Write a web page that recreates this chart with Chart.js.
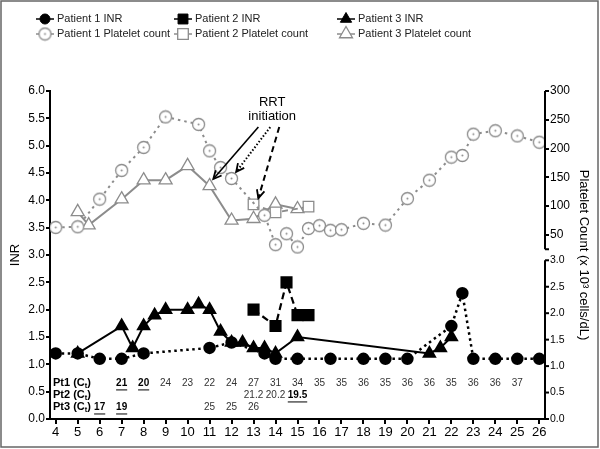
<!DOCTYPE html>
<html>
<head>
<meta charset="utf-8">
<script src="https://cdn.jsdelivr.net/npm/chart.js@4.4.0/dist/chart.umd.min.js"></script>
<style>
  html, body { margin: 0; padding: 0; background: #fff; }
  canvas { display: block; }
</style>
</head>
<body>
<canvas id="inrChart" width="600" height="449"></canvas>
<script>
// ==== DATA ====
const dayTicks = [4,5,6,7,8,9,10,11,12,13,14,15,16,17,18,19,20,21,22,23,24,25,26];
const inrTicks = [0,0.5,1,1.5,2,2.5,3,3.5,4,4.5,5,5.5,6];
const plateletTicks = [50,100,150,200,250,300];
const rightInrTicks = [0,0.5,1,1.5,2,2.5,3];

const p1InrDays   = [4,5,6,7,8,11,12,13.5,14,15,16.5,18,19,20,22,22.5,23,24,25,26];
const p1InrValues = [1.2,1.2,1.1,1.1,1.2,1.3,1.4,1.2,1.1,1.1,1.1,1.1,1.1,1.1,1.7,2.3,1.1,1.1,1.1,1.1];

const p2InrDays   = [13,14,14.5,15,15.5];
const p2InrValues = [2.0,1.7,2.5,1.9,1.9];

const p3InrDays   = [5,7,7.5,8,8.5,9,10,10.5,11,11.5,12,12.5,13,13.5,14,15,21,21.5,22];
const p3InrValues = [1.2,1.7,1.3,1.7,1.9,2.0,2.0,2.1,2.0,1.6,1.4,1.4,1.3,1.3,1.2,1.5,1.2,1.3,1.5];

const p1PltDays   = [4,5,6,7,8,9,10.5,11,11.5,12,13.5,14,14.5,15,15.5,16,16.5,17,18,19,20,21,22,22.5,23,24,25,26];
const p1PltValues = [63,64,112,162,202,255,242,196,167,148,84,33,52,29,61,66,58,59,70,67,113,145,185,188,225,231,222,211];

const p2PltDays   = [13,14,15.5];
const p2PltValues = [103,89,99];

const p3PltDays   = [5,5.5,7,8,9,10,11,12,13,14,15];
const p3PltValues = [90,67,112,145,145,170,135,75,78,103,95];

// C_t table rows
const pt1CtDays   = [7,8,9,10,11,12,13,14,15,16,17,18,19,20,21,22,23,24,25];
const pt1CtValues = ['21','20','24','23','22','24','27','31','34','35','35','36','35','36','36','35','36','36','37'];
const pt1CtMarked = [7,8];
const pt2CtDays   = [13,14,15];
const pt2CtValues = ['21.2','20.2','19.5'];
const pt2CtMarked = [15];
const pt3CtDays   = [6,7,11,12,13];
const pt3CtValues = ['17','19','25','25','26'];
const pt3CtMarked = [6,7];

const GREY = '#8c8c8c';
const FONT = "'Liberation Sans', Arial, sans-serif";

// ==== POINT STYLE: open circle with a dot ====
function ringDot(color) {
  const c = document.createElement('canvas');
  c.width = 15; c.height = 15;
  const g = c.getContext('2d');
  g.fillStyle = '#fff';
  g.strokeStyle = color;
  g.lineWidth = 1.3;
  g.beginPath(); g.arc(7.5, 7.5, 6, 0, 2 * Math.PI); g.fill(); g.stroke();
  g.fillStyle = color;
  g.beginPath(); g.arc(7.5, 7.5, 1, 0, 2 * Math.PI); g.fill();
  return c;
}
const ringImg = ringDot(GREY);

function series(label, days, vals, opts) {
  return Object.assign({
    label: label,
    data: days.map((d, i) => ({ x: d, y: vals[i] })),
    showLine: true, fill: false, tension: 0
  }, opts);
}

const datasets = [
  series('Patient 1 Platelet count', p1PltDays, p1PltValues, {
    yAxisID: 'yP', borderColor: GREY, borderWidth: 2, borderDash: [2.5, 4],
    pointStyle: ringImg, pointRadius: 6, backgroundColor: '#fff', pointBorderColor: GREY }),
  series('Patient 2 Platelet count', p2PltDays, p2PltValues, {
    yAxisID: 'yP', borderColor: GREY, borderWidth: 1.8, borderDash: [6, 4],
    pointStyle: 'rect', pointRadius: 7.5, pointBorderWidth: 1.3, backgroundColor: '#fff', pointBorderColor: GREY }),
  series('Patient 3 Platelet count', p3PltDays, p3PltValues, {
    yAxisID: 'yP', borderColor: GREY, borderWidth: 2,
    pointStyle: 'triangle', pointRadius: 7.5, pointBorderWidth: 1.3, backgroundColor: '#fff', pointBorderColor: GREY }),
  series('Patient 1 INR', p1InrDays, p1InrValues, {
    yAxisID: 'y', borderColor: '#000', borderWidth: 2.5, borderDash: [2.5, 3.5],
    pointStyle: 'circle', pointRadius: 5, backgroundColor: '#000', pointBorderColor: '#000' }),
  series('Patient 2 INR', p2InrDays, p2InrValues, {
    yAxisID: 'y', borderColor: '#000', borderWidth: 2.2, borderDash: [7, 4],
    pointStyle: 'rect', pointRadius: 7, backgroundColor: '#000', pointBorderColor: '#000' }),
  series('Patient 3 INR', p3InrDays, p3InrValues, {
    yAxisID: 'y', borderColor: '#000', borderWidth: 2,
    pointStyle: 'triangle', pointRadius: 6.5, backgroundColor: '#000', pointBorderColor: '#000' })
];

// legend columns: [INR dataset index, platelet dataset index]
const legendColumns = [[3, 0], [4, 1], [5, 2]];

// ==== HELPERS ====
function drawMarker(g, ds, x, y) {
  const r = ds.pointRadius;
  g.save();
  g.setLineDash([]);
  g.fillStyle = ds.backgroundColor;
  g.strokeStyle = ds.pointBorderColor;
  g.lineWidth = ds.pointBorderWidth || 1;
  if (typeof ds.pointStyle !== 'string') {
    g.drawImage(ds.pointStyle, x - ds.pointStyle.width / 2, y - ds.pointStyle.height / 2);
  } else if (ds.pointStyle === 'circle') {
    g.beginPath(); g.arc(x, y, r, 0, 2 * Math.PI); g.fill(); g.stroke();
  } else if (ds.pointStyle === 'rect') {
    const s = r * Math.SQRT1_2;
    g.beginPath(); g.rect(x - s, y - s, 2 * s, 2 * s); g.fill(); g.stroke();
  } else {
    g.beginPath();
    for (let k = 0; k < 3; k++) {
      const a = -Math.PI / 2 + k * 2 * Math.PI / 3;
      const px = x + r * Math.cos(a), py = y + r * Math.sin(a);
      if (k === 0) g.moveTo(px, py); else g.lineTo(px, py);
    }
    g.closePath(); g.fill(); g.stroke();
  }
  g.restore();
}

function arrow(g, x1, y1, x2, y2, dash, width) {
  g.save();
  g.strokeStyle = '#000';
  g.lineWidth = width;
  g.setLineDash(dash);
  g.beginPath(); g.moveTo(x1, y1); g.lineTo(x2, y2); g.stroke();
  g.setLineDash([]);
  g.lineWidth = 1.8;
  const ang = Math.atan2(y2 - y1, x2 - x1);
  g.beginPath();
  g.moveTo(x2 - 9 * Math.cos(ang - 0.45), y2 - 9 * Math.sin(ang - 0.45));
  g.lineTo(x2, y2);
  g.lineTo(x2 - 9 * Math.cos(ang + 0.45), y2 - 9 * Math.sin(ang + 0.45));
  g.stroke();
  g.restore();
}

// ==== PLUGIN: background, frame, legend, arrows, C_t table, split right axis ====
const decorPlugin = {
  id: 'decor',
  beforeDraw(chart) {
    const g = chart.ctx;
    g.save(); g.fillStyle = '#fff'; g.fillRect(0, 0, chart.width, chart.height); g.restore();
  },
  afterDraw(chart) {
    const g = chart.ctx;
    const xs = chart.scales.x, ys = chart.scales.y, yp = chart.scales.yP, yr = chart.scales.yR;
    const ca = chart.chartArea;

    // right axis lines, split in two pieces
    g.save();
    g.strokeStyle = '#000'; g.lineWidth = 2;
    g.beginPath();
    g.moveTo(ca.right, yp.getPixelForValue(300)); g.lineTo(ca.right, yp.getPixelForValue(25));
    g.moveTo(ca.right, yr.getPixelForValue(3)); g.lineTo(ca.right, yr.getPixelForValue(0));
    g.stroke();
    g.beginPath();
    g.moveTo(ca.right, yp.getPixelForValue(25)); g.lineTo(ca.right + 4, yp.getPixelForValue(25));
    g.stroke();
    // lower right INR ticks and labels
    g.fillStyle = '#000';
    g.font = '10.5px ' + FONT;
    g.textAlign = 'left';
    g.textBaseline = 'middle';
    rightInrTicks.forEach(v => {
      const py = yr.getPixelForValue(v);
      g.beginPath(); g.moveTo(ca.right, py); g.lineTo(ca.right + 4, py); g.stroke();
      g.fillText(v.toFixed(1), ca.right + 5, py);
    });
    g.restore();

    // legend
    const colX = [45, 183, 346];
    const rowY = [19, 34];
    g.save();
    g.font = '11px ' + FONT;
    g.textBaseline = 'middle';
    legendColumns.forEach((col, ci) => {
      col.forEach((di, ri) => {
        const ds = chart.data.datasets[di];
        const cx = colX[ci], cy = rowY[ri];
        g.save();
        g.strokeStyle = ds.borderColor; g.lineWidth = 1.5;
        g.beginPath(); g.moveTo(cx - 9, cy); g.lineTo(cx + 9, cy); g.stroke();
        g.restore();
        drawMarker(g, ds, cx, cy);
        g.fillStyle = '#222';
        g.fillText(ds.label, cx + 12, cy);
      });
    });
    g.restore();

    // RRT initiation annotation
    g.save();
    g.fillStyle = '#000';
    g.font = '13px ' + FONT;
    g.textAlign = 'center';
    g.textBaseline = 'middle';
    g.fillText('RRT', xs.getPixelForValue(13.85), ys.getPixelForValue(5.8));
    g.fillText('initiation', xs.getPixelForValue(13.85), ys.getPixelForValue(5.54));
    g.restore();
    const P = (d, v) => [xs.getPixelForValue(d), ys.getPixelForValue(v)];
    arrow(g, ...P(13.22, 5.34), ...P(11.17, 4.39), [], 1.6);
    arrow(g, ...P(13.76, 5.34), ...P(12.21, 4.52), [1.5, 2], 2);
    arrow(g, ...P(14.17, 5.34), ...P(13.22, 4.04), [6, 4], 2);

    // C_t table
    const rows = [
      ['Pt1', pt1CtDays, pt1CtValues, pt1CtMarked, 0.66],
      ['Pt2', pt2CtDays, pt2CtValues, pt2CtMarked, 0.44],
      ['Pt3', pt3CtDays, pt3CtValues, pt3CtMarked, 0.22]
    ];
    g.save();
    g.textBaseline = 'middle';
    rows.forEach(([name, days, vals, marked, level]) => {
      const y = ys.getPixelForValue(level);
      let x = ca.left + 3;
      g.fillStyle = '#000';
      g.textAlign = 'left';
      g.font = 'bold 11px ' + FONT;
      g.fillText(name + ' (C', x, y);
      x += g.measureText(name + ' (C').width;
      g.font = 'bold 7.5px ' + FONT;
      g.fillText('t', x, y + 3);
      x += g.measureText('t').width;
      g.font = 'bold 11px ' + FONT;
      g.fillText(')', x, y);
      days.forEach((d, i) => {
        const px = xs.getPixelForValue(d);
        const isMarked = marked.includes(d);
        g.textAlign = 'center';
        g.font = (isMarked ? 'bold ' : '') + '10px ' + FONT;
        g.fillStyle = isMarked ? '#000' : '#333';
        g.fillText(vals[i], px, y);
        if (isMarked) {
          const w = g.measureText(vals[i]).width;
          g.strokeStyle = '#000'; g.lineWidth = 1;
          g.beginPath(); g.moveTo(px - w / 2, y + 7); g.lineTo(px + w / 2, y + 7); g.stroke();
        }
      });
    });
    g.restore();

    // outer frame
    g.save();
    g.strokeStyle = '#666'; g.lineWidth = 1.5;
    g.strokeRect(1, 1, chart.width - 3, chart.height - 3);
    g.restore();
  }
};

// ==== CHART ====
const tickGrid = (len) => ({ display: true, drawOnChartArea: false, drawTicks: true, tickLength: len, color: '#000', lineWidth: 2 });

new Chart(document.getElementById('inrChart').getContext('2d'), {
  type: 'line',
  data: { datasets: datasets },
  plugins: [decorPlugin],
  options: {
    responsive: false,
    devicePixelRatio: 1,
    animation: false,
    layout: { padding: { top: 91, left: 0, right: 0, bottom: 0 } },
    plugins: { legend: { display: false }, tooltip: { enabled: false } },
    scales: {
      x: {
        type: 'linear', min: 3.74, max: 26.26,
        afterBuildTicks: s => { s.ticks = dayTicks.map(v => ({ value: v })); },
        afterFit: s => { s.height = 30; },
        grid: tickGrid(5),
        border: { display: true, color: '#000', width: 2 },
        ticks: { color: '#000', font: { family: FONT, size: 13 }, padding: 1, maxRotation: 0, autoSkip: false }
      },
      y: {
        type: 'linear', position: 'left', min: 0, max: 6,
        afterBuildTicks: s => { s.ticks = inrTicks.map(v => ({ value: v })); },
        afterFit: s => { s.width = 50; },
        grid: tickGrid(4),
        border: { display: true, color: '#000', width: 2 },
        ticks: { color: '#000', font: { family: FONT, size: 12 }, padding: 1, callback: v => v.toFixed(1) },
        title: { display: true, text: 'INR', color: '#000', font: { family: FONT, size: 13 }, padding: { top: 8, bottom: 0 } }
      },
      yR: {
        type: 'linear', position: 'right', weight: 0, min: 0, max: 6.2,
        display: false
      },
      yP: {
        type: 'linear', position: 'right', weight: 1, min: -270, max: 300,
        afterBuildTicks: s => { s.ticks = plateletTicks.map(v => ({ value: v })); },
        afterFit: s => { s.width = 55; },
        grid: tickGrid(4),
        border: { display: false },
        ticks: { color: '#000', font: { family: FONT, size: 12 }, padding: 1 },
        title: { display: true, text: 'Platelet Count (x 10\u00b3 cells/dL)', color: '#000', font: { family: FONT, size: 13 }, padding: { top: 9, bottom: 0 } }
      }
    }
  }
});
</script>
</body>
</html>
